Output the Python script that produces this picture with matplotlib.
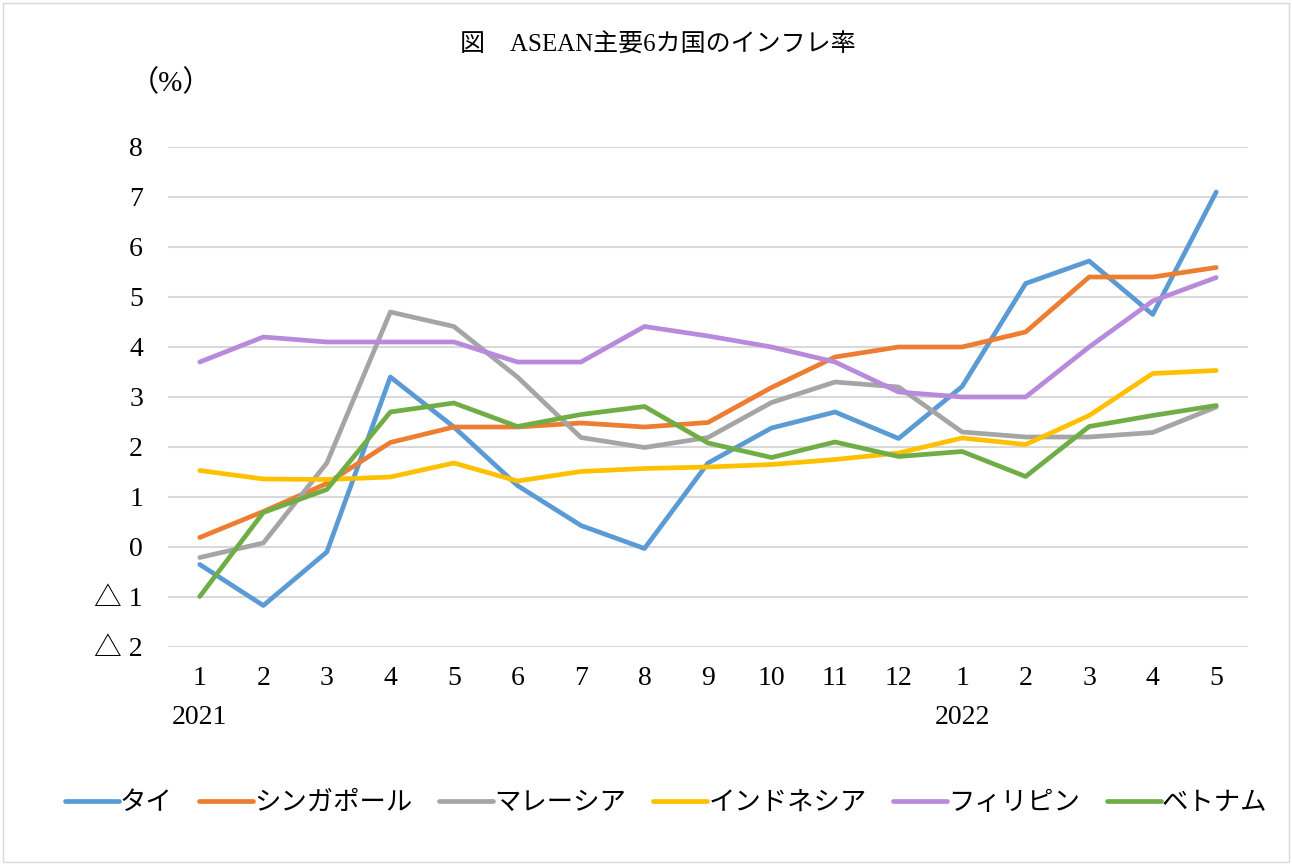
import matplotlib
matplotlib.use('Agg')
import matplotlib.pyplot as plt
from matplotlib.patches import Rectangle

plt.rcParams['font.family'] = ['Liberation Serif', 'Noto Sans CJK JP', 'DejaVu Sans']

# 月 (2021/1 - 2022/5)
months = ['1', '2', '3', '4', '5', '6', '7', '8', '9', '10', '11', '12', '1', '2', '3', '4', '5']
years = ['2021', '2022']
year_pos = [0, 12]

countries = ['タイ', 'シンガポール', 'マレーシア', 'インドネシア', 'フィリピン', 'ベトナム']

thai = [-0.35, -1.17, -0.10, 3.40, 2.40, 1.23, 0.43, -0.03, 1.68, 2.38, 2.70, 2.17, 3.21, 5.27, 5.72, 4.65, 7.10]
singapore = [0.19, 0.71, 1.27, 2.09, 2.40, 2.40, 2.48, 2.40, 2.49, 3.19, 3.80, 4.00, 4.00, 4.30, 5.40, 5.40, 5.59]
malaysia = [-0.21, 0.08, 1.68, 4.70, 4.41, 3.40, 2.19, 1.99, 2.19, 2.89, 3.30, 3.20, 2.30, 2.20, 2.20, 2.29, 2.80]
indonesia = [1.53, 1.36, 1.35, 1.40, 1.68, 1.32, 1.51, 1.57, 1.60, 1.65, 1.75, 1.88, 2.18, 2.05, 2.63, 3.47, 3.53]
philippines = [3.70, 4.20, 4.10, 4.10, 4.10, 3.70, 3.70, 4.41, 4.22, 4.00, 3.70, 3.10, 3.00, 3.00, 4.00, 4.92, 5.39]
vietnam = [-0.99, 0.69, 1.15, 2.70, 2.88, 2.41, 2.65, 2.81, 2.08, 1.79, 2.10, 1.81, 1.91, 1.41, 2.41, 2.63, 2.83]

series = [thai, singapore, malaysia, indonesia, philippines, vietnam]
colors = ['#5B9BD5', '#ED7D31', '#A5A5A5', '#FFC000', '#B98ADB', '#70AD47']

y_ticks = [-2, -1, 0, 1, 2, 3, 4, 5, 6, 7, 8]
y_labels = ['△ 2', '△ 1', '0', '1', '2', '3', '4', '5', '6', '7', '8']

fig = plt.figure(figsize=(12.92, 8.64), dpi=100)
ax = fig.add_axes([168 / 1292, 1 - 647 / 864, (1248 - 168) / 1292, 500 / 864])

x = list(range(len(months)))
for vals, col, name in zip(series, colors, countries):
    ax.plot(x, vals, color=col, lw=3.4, label=name, solid_capstyle='round', solid_joinstyle='round')

ax.set_xlim(-0.5, len(months) - 0.5)
ax.set_ylim(-2, 8)
ax.set_yticks(y_ticks)
ax.set_yticklabels(y_labels, fontsize=20)
ax.set_xticks(x)
ax.set_xticklabels(months, fontsize=20)
ax.tick_params(axis='both', length=0)
ax.tick_params(axis='y', pad=18)
ax.tick_params(axis='x', pad=14)
ax.yaxis.grid(True, color='#D9D9D9', lw=1.5)
ax.set_axisbelow(True)
for s in ax.spines.values():
    s.set_visible(False)

for lab, pos in zip(years, year_pos):
    ax.text(pos, -0.14, lab, transform=ax.get_xaxis_transform(), ha='center', va='center', fontsize=20)

fig.text(658 / 1292, 1 - 45 / 864, '図　ASEAN主要6カ国のインフレ率', ha='center', va='center', fontsize=18)
fig.text(171 / 1292, 1 - 83 / 864, '（%）', ha='center', va='center', fontsize=21)

fig.legend(loc='center', bbox_to_anchor=(666 / 1292, 1 - 803 / 864), ncol=6, frameon=False,
           fontsize=19, handlelength=2.05, handletextpad=0.05, columnspacing=1.0)

fig.patches.append(Rectangle((0.002, 0.002), 0.996, 0.994, transform=fig.transFigure,
                             fill=False, edgecolor='#D9D9D9', lw=1))

fig.savefig('out.png', dpi=100)
